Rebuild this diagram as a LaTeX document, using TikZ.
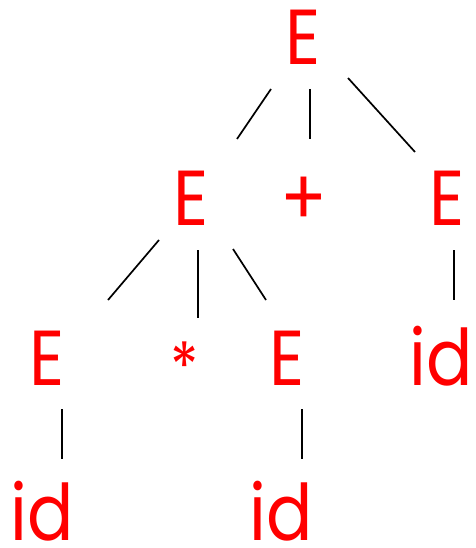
\documentclass[tikz,border=0pt]{standalone}
\usepackage{fontspec}
\setmainfont{Poppins}
\begin{document}
\begin{tikzpicture}[x=1pt,y=1pt,
  sym/.style={text=red, inner sep=0pt, anchor=base, xscale=0.88, font=\fontsize{78}{78}\selectfont},
  edge/.style={line width=1.7pt, black}]
\useasboundingbox (0,0) rectangle (475,-548);
% level 0
\node[sym] (root) at (303,-65) {E};
% level 1
\node[sym] (e1) at (191,-225) {E};
\node[sym] (plus) at (304,-225) {+};
\node[sym] (e2) at (447,-225) {E};
% level 2
\node[sym] (e11) at (47,-385) {E};
\node[sym, anchor=center, scale=0.85] (star) at (185,-366) {*};
\node[sym] (e13) at (287,-385) {E};
\node[sym] (id2) at (441,-385) {id};
% level 3
\node[sym] (id11) at (42,-540) {id};
\node[sym] (id13) at (281,-540) {id};
% connector ends
\coordinate (r1a) at (271,-89);  \coordinate (r1b) at (237,-139);
\coordinate (r2a) at (310,-89);  \coordinate (r2b) at (310,-139);
\coordinate (r3a) at (348,-78);  \coordinate (r3b) at (415,-152);
\coordinate (a1a) at (159,-240); \coordinate (a1b) at (108,-300);
\coordinate (a2a) at (198,-250); \coordinate (a2b) at (198,-318);
\coordinate (a3a) at (233,-249); \coordinate (a3b) at (266,-300);
\coordinate (b1a) at (454,-250); \coordinate (b1b) at (454,-300);
\coordinate (c1a) at (62,-409);  \coordinate (c1b) at (62,-459);
\coordinate (c2a) at (302,-409); \coordinate (c2b) at (302,-459);
\draw[edge] (r1a) -- (r1b);
\draw[edge] (r2a) -- (r2b);
\draw[edge] (r3a) -- (r3b);
\draw[edge] (a1a) -- (a1b);
\draw[edge] (a2a) -- (a2b);
\draw[edge] (a3a) -- (a3b);
\draw[edge] (b1a) -- (b1b);
\draw[edge] (c1a) -- (c1b);
\draw[edge] (c2a) -- (c2b);
\end{tikzpicture}
\end{document}
